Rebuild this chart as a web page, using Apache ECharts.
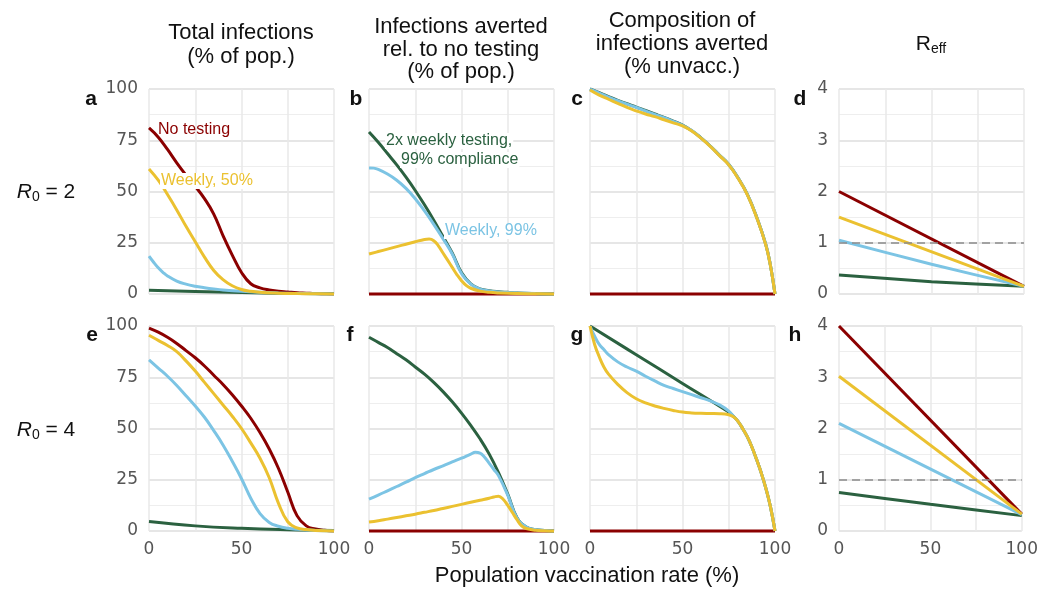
<!DOCTYPE html>
<html>
<head>
<meta charset="utf-8">
<script src="https://cdn.jsdelivr.net/npm/echarts@6/dist/echarts.min.js"></script>
<style>
  html, body { margin: 0; padding: 0; background: #fff; }
  #chart { width: 1041px; height: 589px; }
</style>
</head>
<body>
<div id="chart"></div>
<script>
// series: no testing / 2x weekly 99% / weekly 99% / weekly 50%
// x = population vaccination rate (%)

// a: total infections, R0 = 2
const aNoTest = [[0,81],[5,76.5],[10,70.5],[15,64],[20,58],[25,52.5],[30,46.5],[35,39],[40,28.5],[45,19],[50,10.5],[55,5],[60,3],[65,2],[70,1.4],[75,1],[80,0.6],[85,0.4],[90,0.2],[95,0.1],[100,0]];
const aTwice99 = [[0,1.8],[25,1.2],[50,0.7],[75,0.3],[100,0.1]];
const aWeekly99 = [[0,18.5],[2.5,15.5],[5,12.8],[7.5,10.6],[10,8.8],[15,6.3],[20,4.8],[25,3.8],[30,3.1],[35,2.5],[40,2],[50,1.3],[60,0.8],[70,0.5],[80,0.3],[90,0.1],[100,0]];
const aWeekly50 = [[0,61],[5,55.5],[10,48.5],[15,41],[20,33],[25,25.5],[30,18],[35,11.5],[40,7],[45,4],[50,2.2],[55,1.3],[60,0.8],[70,0.4],[80,0.2],[90,0.1],[100,0]];

// b: infections averted rel. to no testing, R0 = 2
const bNoTest = [[0,0],[100,0]];
const bTwice99 = [[0,79],[5,74],[10,68.5],[15,63],[20,57],[25,50.5],[30,43.5],[35,36],[40,28],[45,20],[50,10.5],[55,5],[60,2.5],[65,1.6],[70,1.1],[75,0.8],[80,0.5],[90,0.2],[100,0]];
const bWeekly99 = [[0,61.5],[2.5,61.4],[5,60.8],[10,58.5],[15,55.5],[20,51.5],[25,46.5],[30,40.5],[35,34],[40,27],[45,19.5],[50,10],[55,4.8],[60,2.4],[65,1.5],[70,1],[75,0.7],[80,0.5],[90,0.2],[100,0]];
const bWeekly50 = [[0,19.5],[5,20.7],[10,21.9],[15,23.1],[20,24.3],[25,25.5],[30,26.6],[32.5,26.8],[35,26],[37.5,23.5],[40,20],[42.5,16.5],[45,13],[47.5,9.5],[50,6.5],[52.5,4.2],[55,2.8],[60,1.4],[65,0.8],[70,0.5],[80,0.2],[90,0.1],[100,0]];

// c: composition of infections averted (% unvacc.), R0 = 2
const cNoTest = [[0,0],[100,0]];
const cTwice99 = [[0,100],[5,98.2],[10,96.3],[15,94.5],[20,92.8],[25,91.2],[30,89.5],[35,87.8],[40,86.1],[45,84.3],[50,82.4],[55,79.7],[60,76.2],[65,72.2],[70,67.7],[75,63.2],[80,56.7],[85,48.7],[90,37.7],[95,24.2],[97.5,14.1],[100,0]];
const cWeekly99 = [[0,100],[5,98],[10,96],[15,94.3],[20,92.6],[25,91],[30,89.3],[35,87.6],[40,86],[45,84.2],[50,82.3],[55,79.7],[60,76.2],[65,72.2],[70,67.7],[75,63.2],[80,56.7],[85,48.7],[90,37.7],[95,24.2],[97.5,14.1],[100,0]];
const cWeekly50 = [[0,99.5],[5,97],[10,95],[15,93],[20,91],[25,89.3],[30,87.8],[35,86.5],[40,85],[45,83.5],[50,82],[55,79.5],[60,76],[65,72],[70,67.5],[75,63],[80,56.5],[85,48.5],[90,37.5],[95,24],[97.5,14],[100,0]];

// d: R_eff, R0 = 2
const dNoTest = [[0,2],[100,0.15]];
const dTwice99 = [[0,0.37],[50,0.24],[100,0.15]];
const dWeekly99 = [[0,1.05],[50,0.58],[100,0.15]];
const dWeekly50 = [[0,1.5],[100,0.15]];

// e: total infections, R0 = 4
const eNoTest = [[0,99],[5,97],[10,94.5],[15,91.5],[20,88],[25,84.5],[30,80.5],[35,76],[40,71.5],[45,66.5],[50,61],[55,55],[60,48],[65,40],[70,30.5],[75,19],[80,7.5],[85,2.5],[90,1],[95,0.4],[100,0]];
const eTwice99 = [[0,4.6],[25,2.5],[50,1.3],[75,0.6],[100,0.2]];
const eWeekly99 = [[0,83.5],[5,79.5],[10,75.5],[15,71],[20,66],[25,61],[30,55.5],[35,49],[40,42],[45,34],[50,25.5],[55,16],[60,8.5],[65,4.2],[70,2.3],[75,1.3],[80,0.8],[90,0.3],[100,0]];
const eWeekly50 = [[0,95.5],[5,93],[10,90.5],[15,87.5],[20,83],[25,78],[30,72.5],[35,67],[40,61.5],[45,56],[50,50],[55,43],[60,35.5],[65,26],[70,13.5],[75,4.5],[80,1.5],[85,0.7],[90,0.3],[100,0]];

// f: infections averted rel. to no testing, R0 = 4
const fNoTest = [[0,0],[100,0]];
const fTwice99 = [[0,94.5],[5,92],[10,89.5],[15,86.5],[20,83.5],[25,80],[30,76.5],[35,72.5],[40,68],[45,63],[50,57.5],[55,51.5],[60,45],[65,37.5],[70,28.5],[75,18],[80,6.5],[85,2],[90,0.7],[95,0.3],[100,0]];
const fWeekly99 = [[0,15.5],[5,17.5],[10,19.6],[15,21.7],[20,23.8],[25,26],[30,28],[35,30],[40,31.8],[45,33.7],[50,35.5],[55,37.5],[57.5,38.4],[60,38],[62.5,36],[65,33],[67.5,30],[70,27],[75,17.5],[80,6.3],[85,2],[90,0.7],[95,0.3],[100,0]];
const fWeekly50 = [[0,4.4],[5,5],[10,5.8],[15,6.6],[20,7.4],[25,8.2],[30,9.1],[35,10],[40,11],[45,12],[50,13],[55,14],[60,15],[65,16],[67.5,16.6],[70,17],[72.5,15.5],[75,12.5],[77.5,9],[80,5.5],[82.5,2.5],[85,1.2],[90,0.4],[95,0.1],[100,0]];

// g: composition of infections averted (% unvacc.), R0 = 4
const gNoTest = [[0,0],[100,0]];
const gTwice99 = [[0,100],[25,86],[50,72],[75,58],[77.5,56],[80,53.5],[82.5,50],[85,46],[87.5,41],[90,35],[92.5,28.5],[95,21],[97.5,12],[100,0]];
const gWeekly99 = [[0,100],[2.5,95],[5,91],[7.5,88.5],[10,86],[15,82.5],[20,80],[25,78],[30,75.5],[35,73.2],[40,71],[45,69.5],[50,68],[55,66.5],[60,65],[65,63.5],[70,61.5],[75,58.5],[77.5,56],[80,53.5],[82.5,50],[85,46],[87.5,41],[90,35],[92.5,28.5],[95,21],[97.5,12],[100,0]];
const gWeekly50 = [[0,100],[2.5,91],[5,85],[7.5,80],[10,76.5],[15,71.5],[20,67.5],[25,64.5],[30,62.5],[35,61],[40,59.8],[45,58.8],[50,58],[55,57.6],[60,57.4],[65,57.3],[70,57.2],[75,56.7],[77.5,55.7],[80,53.5],[82.5,50],[85,46],[87.5,41],[90,35],[92.5,28.5],[95,21],[97.5,12],[100,0]];

// h: R_eff, R0 = 4
const hNoTest = [[0,4],[100,0.33]];
const hTwice99 = [[0,0.75],[50,0.52],[100,0.3]];
const hWeekly99 = [[0,2.1],[100,0.32]];
const hWeekly50 = [[0,3.02],[100,0.33]];

const yTicksPct = [0, 25, 50, 75, 100];
const yTicksR = [0, 1, 2, 3, 4];
const xTickLabels = [0, 50, 100];

const RED = '#8b0000', GRN = '#2b6140', BLU = '#7cc4e4', YEL = '#ebc130';
const lineColors = [RED, GRN, BLU, YEL];

const panels = [
  { lines: [aNoTest, aTwice99, aWeekly99, aWeekly50], max: 100 },
  { lines: [bNoTest, bTwice99, bWeekly99, bWeekly50], max: 100 },
  { lines: [cNoTest, cTwice99, cWeekly99, cWeekly50], max: 100 },
  { lines: [dNoTest, dTwice99, dWeekly99, dWeekly50], max: 4, reff: true },
  { lines: [eNoTest, eTwice99, eWeekly99, eWeekly50], max: 100 },
  { lines: [fNoTest, fTwice99, fWeekly99, fWeekly50], max: 100 },
  { lines: [gNoTest, gTwice99, gWeekly99, gWeekly50], max: 100 },
  { lines: [hNoTest, hTwice99, hWeekly99, hWeekly50], max: 4, reff: true }
];

const colX = [149, 369, 590, 839];
const rowY = [89, 326];
const panelW = 185, panelH = 205;

const tickFont = { color: '#555', fontFamily: 'DejaVu Sans', fontSize: 17 };
const sans = 'Liberation Sans';

const grids = [], xAxes = [], yAxes = [], series = [];
panels.forEach((p, i) => {
  const row = Math.floor(i / 4), col = i % 4;
  const yTicks = p.reff ? yTicksR : yTicksPct;
  grids.push({ left: colX[col], top: rowY[row], width: panelW, height: panelH });
  xAxes.push({
    type: 'value', gridIndex: i, min: 0, max: 100, interval: 25,
    axisLine: { show: false }, axisTick: { show: false },
    axisLabel: Object.assign({
      show: row === 1, margin: 10,
      formatter: v => xTickLabels.indexOf(v) >= 0 ? String(v) : ''
    }, tickFont),
    splitLine: { show: true, lineStyle: { color: '#e8e8e8', width: 1.5 } }
  });
  yAxes.push({
    type: 'value', gridIndex: i, min: 0, max: p.max, interval: p.max / 4,
    axisLine: { show: false }, axisTick: { show: false },
    axisLabel: Object.assign({
      show: col === 0 || col === 3, margin: 11,
      formatter: v => yTicks.indexOf(v) >= 0 ? String(v) : ''
    }, tickFont),
    splitLine: { show: true, lineStyle: { color: '#e6e6e6', width: 2 } },
    minorTick: { show: false, splitNumber: 2 },
    minorSplitLine: { show: true, lineStyle: { color: '#eeeeee', width: 1.2 } }
  });
  p.lines.forEach((d, k) => {
    const s = {
      type: 'line', xAxisIndex: i, yAxisIndex: i, data: d,
      showSymbol: false, symbol: 'none', clip: false,
      smooth: p.reff ? 0.2 : 0.45,
      lineStyle: { color: lineColors[k], width: 3 },
      emphasis: { disabled: true }
    };
    if (p.reff && k === 0) {
      s.markLine = {
        silent: true, symbol: ['none', 'none'], label: { show: false },
        lineStyle: { color: '#8c8c8c', type: [8, 5], width: 1.6 },
        data: [{ yAxis: 1 }]
      };
    }
    series.push(s);
  });
});

function ts(size, more) {
  return Object.assign({ fontFamily: sans, fontSize: size, fontWeight: 'normal', color: '#111' }, more || {});
}
function t(text, left, top, style) {
  return { text: text, left: left, top: top, textAlign: 'center', padding: 0, textStyle: style };
}

const r0Rich = {
  i: ts(21, { fontStyle: 'italic', lineHeight: 24 }),
  s: ts(14, { lineHeight: 14, verticalAlign: 'bottom' }),
  n: ts(21, { lineHeight: 24 })
};

const titles = [
  t('Total infections\n(% of pop.)', 241, 21, ts(22, { lineHeight: 24 })),
  t('Infections averted\nrel. to no testing\n(% of pop.)', 461, 16, ts(22, { lineHeight: 22.5 })),
  t('Composition of\ninfections averted\n(% unvacc.)', 682, 9, ts(22, { lineHeight: 23.3 })),
  t('{r|R}{s|eff}', 931, 32, ts(21, { rich: {
    r: ts(21, { lineHeight: 24 }),
    s: ts(14, { lineHeight: 12, verticalAlign: 'bottom' }) } })),
  t('{i|R}{s|0}{n| = 2}', 46, 180, ts(21, { rich: r0Rich })),
  t('{i|R}{s|0}{n| = 4}', 46, 418, ts(21, { rich: r0Rich })),
  t('Population vaccination rate (%)', 587, 565, ts(22, { lineHeight: 22 }))
];

const letters = [['a', 91, 89], ['b', 356, 89], ['c', 577, 89], ['d', 800, 89],
                 ['e', 92, 325], ['f', 350, 325], ['g', 577, 325], ['h', 795, 325]];
letters.forEach(l => titles.push(t(l[0], l[1], l[2], ts(21, { fontWeight: 'bold', lineHeight: 21 }))));

function note(text, x, y, color, bg) {
  return {
    type: 'text', z: 100, silent: true,
    style: {
      text: text, x: x, y: y, fill: color,
      font: '16px "Liberation Sans"',
      textAlign: 'left', align: 'left',
      textVerticalAlign: 'middle', verticalAlign: 'middle',
      backgroundColor: bg ? '#ffffff' : null, padding: bg ? [0, 1, 0, 1] : 0
    }
  };
}

const notes = [
  note('No testing', 158, 130, RED, false),
  note('Weekly, 50%', 160, 181, YEL, true),
  note('2x weekly testing,', 385, 141, GRN, true),
  note('99% compliance', 400, 160, GRN, true),
  note('Weekly, 99%', 444, 231, BLU, true)
];

const chart = echarts.init(document.getElementById('chart'), null, { renderer: 'canvas' });
chart.setOption({
  animation: false,
  backgroundColor: '#ffffff',
  title: titles,
  grid: grids,
  xAxis: xAxes,
  yAxis: yAxes,
  series: series,
  graphic: notes
});
</script>
</body>
</html>
